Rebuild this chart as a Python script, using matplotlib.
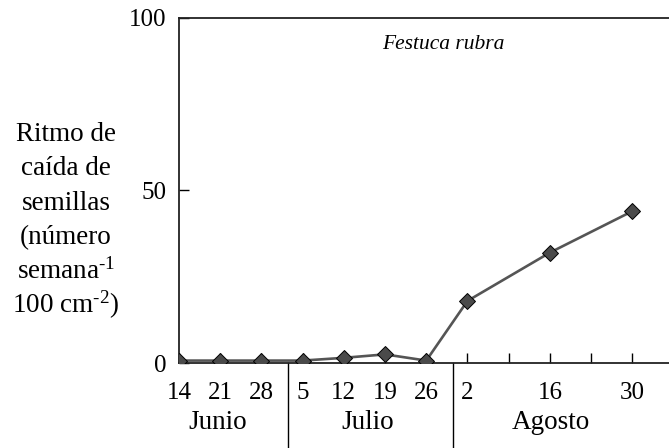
import matplotlib
matplotlib.use("Agg")
import matplotlib.pyplot as plt
import matplotlib.transforms as mtransforms

# weeks since 14 June
weeks = [0, 1, 2, 3, 4, 5, 6, 7, 9, 11]
seed_rate = [0.7, 0.7, 0.7, 0.7, 1.5, 2.5, 0.7, 18, 32, 44]
tick_weeks = list(range(12))
tick_labels = ["14", "21", "28", "5", "12", "19", "26", "2", "", "16", "", "30"]
months = ["Junio", "Julio", "Agosto"]
month_pos = [0.95, 4.59, 9.03]
month_breaks = [2.65, 6.65]
ylabel_lines = ["Ritmo de", "caída de", "semillas", "(número",
                r"semana$^{\text{-}1}$", r"100 cm$^{\text{-}2}$)"]

plt.rcParams["font.family"] = ["Liberation Serif", "DejaVu Serif"]
plt.rcParams["mathtext.fontset"] = "custom"
plt.rcParams["mathtext.rm"] = "Liberation Serif"
plt.rcParams["mathtext.it"] = "Liberation Serif:italic"
plt.rcParams["font.size"] = 18

fig = plt.figure(figsize=(6.69, 4.48), dpi=100)
ax = fig.add_axes([179 / 669, 85 / 448, 490 / 669, 345 / 448])

ax.plot(weeks, seed_rate, color="#555555", lw=1.9, marker="D", ms=8,
        mfc="#4a4a4a", mec="black", mew=0.7, zorder=3)

ax.set_xlim(0, 11.89)
ax.set_ylim(0, 100)
ax.set_yticks([0, 50, 100])
ax.set_xticks(tick_weeks)
ax.set_xticklabels(tick_labels)
ax.tick_params(axis="x", direction="in", length=7, width=1, pad=14)
ax.tick_params(axis="y", direction="in", length=7, width=1, pad=9)
ax.spines["right"].set_visible(False)
for s in ("left", "bottom", "top"):
    ax.spines[s].set_linewidth(1.3)
    ax.spines[s].set_color("#222222")

# month separators and names below the axis
trans = mtransforms.blended_transform_factory(ax.transData, ax.transAxes)
for xb in month_breaks:
    ax.plot([xb, xb], [0, -0.3], transform=trans, color="black", lw=1,
            clip_on=False)
for name, xm in zip(months, month_pos):
    ax.text(xm, -0.19, name, transform=trans, ha="center", va="baseline",
            fontsize=19.5)

ax.text(6.42, 0.922, "Festuca rubra", transform=trans, ha="center",
        va="center", style="italic", fontsize=15.5)

for i, line in enumerate(ylabel_lines):
    fig.text(66 / 669, 1 - (141 + i * 34.4) / 448, line, ha="center",
             va="baseline", fontsize=19.5)

fig.savefig("out.png", dpi=100)
